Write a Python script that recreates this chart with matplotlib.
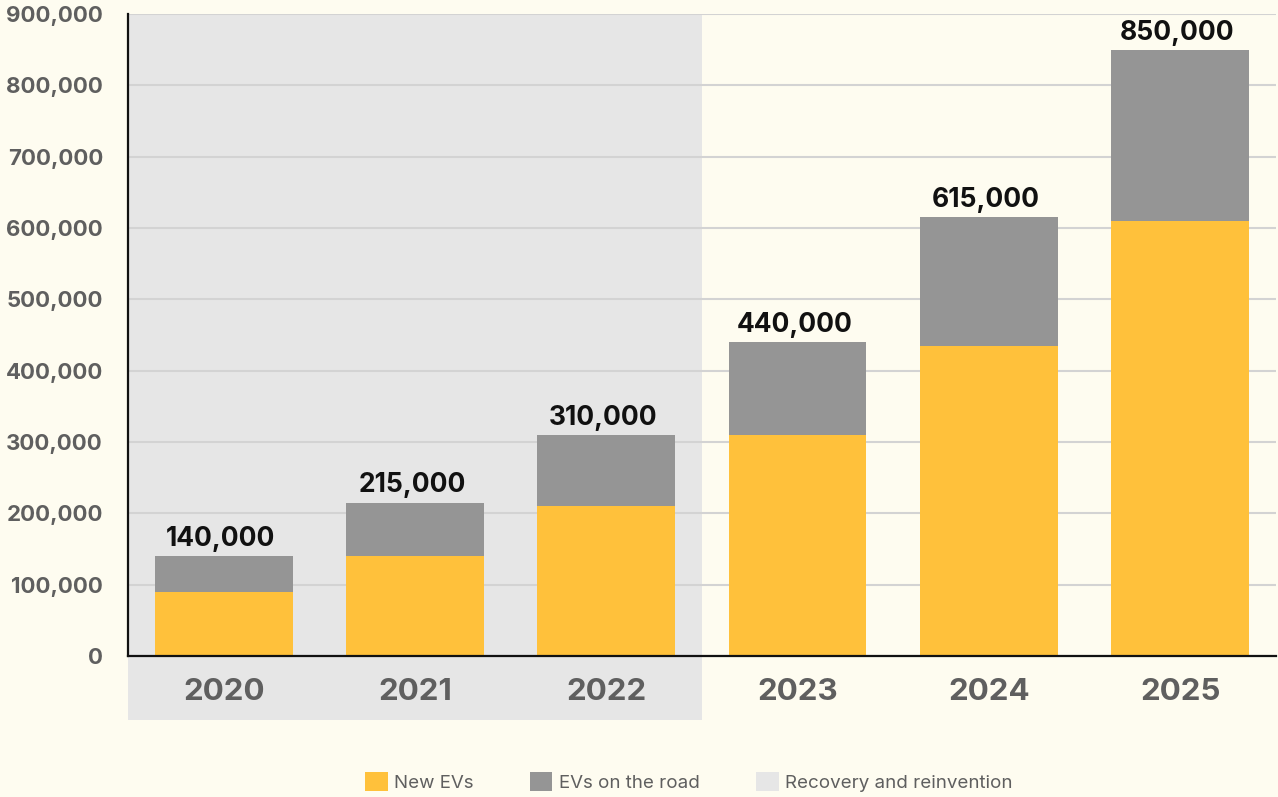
import matplotlib
matplotlib.use("Agg")
import matplotlib.pyplot as plt
from matplotlib.patches import Rectangle, Patch
from matplotlib.ticker import FuncFormatter, MultipleLocator

years = ["2020", "2021", "2022", "2023", "2024", "2025"]
new_evs = [90000, 140000, 210000, 310000, 435000, 610000]
on_road = [50000, 75000, 100000, 130000, 180000, 240000]
totals = [140000, 215000, 310000, 440000, 615000, 850000]
shade_start, shade_end = "2020", "2022"
legend_labels = ["New EVs", "EVs on the road", "Recovery and reinvention"]

plt.rcParams['font.family'] = ['Inter', 'DejaVu Sans']

BG = "#FEFCF0"
YELLOW = "#FFC13B"
GRAY = "#959595"
SHADE = "#E6E6E6"
TXT = "#5F5F5F"

fig = plt.figure(figsize=(12.78, 7.97), dpi=100, facecolor=BG)
ax = fig.add_axes([0.1002, 0.1769, 0.898, 0.8055])
ax.set_facecolor(BG)

x = list(range(len(years)))
i0, i1 = years.index(shade_start), years.index(shade_end)
ax.add_patch(Rectangle((i0 - 0.5, -0.1), (i1 - i0) + 1, 1.1,
                       transform=ax.get_xaxis_transform(), facecolor=SHADE,
                       edgecolor='none', clip_on=False, zorder=0))

w = 0.72
ax.bar(x, new_evs, width=w, color=YELLOW, zorder=3)
ax.bar(x, on_road, width=w, bottom=new_evs, color=GRAY, zorder=3)
for xi, t in zip(x, totals):
    ax.annotate(f"{t:,}", (xi, t), xytext=(-2, 3), textcoords="offset points",
                ha="center", va="bottom", fontsize=19, fontweight="bold",
                color="#111111", zorder=4)

ax.set_xlim(-0.5, len(years) - 0.5)
ax.set_ylim(0, 900000)
ax.yaxis.set_major_locator(MultipleLocator(100000))
ax.yaxis.set_major_formatter(FuncFormatter(lambda v, p: f"{int(v):,}"))
ax.set_xticks(x)
ax.set_xticklabels(years)
ax.grid(axis="y", color="#D3D3D3", linewidth=1.5, zorder=1)
ax.set_axisbelow(True)
for s in ["top", "right"]:
    ax.spines[s].set_visible(False)
for s in ["left", "bottom"]:
    ax.spines[s].set_color("#111111")
    ax.spines[s].set_linewidth(1.6)
    ax.spines[s].set_zorder(5)
ax.tick_params(axis="y", length=0, pad=18, labelsize=16, labelcolor=TXT)
ax.tick_params(axis="x", length=0, pad=16, labelsize=22.5, labelcolor=TXT)
for lab in ax.get_yticklabels():
    lab.set_fontweight("bold")
for lab in ax.get_xticklabels():
    lab.set_fontweight("bold")

handles = [Patch(facecolor=YELLOW), Patch(facecolor=GRAY), Patch(facecolor=SHADE)]
leg = fig.legend(handles, legend_labels, loc="center", bbox_to_anchor=(0.539, 0.019),
                 ncol=3, frameon=False, fontsize=13.5, handlelength=1.2,
                 handleheight=1.2, handletextpad=0.35, columnspacing=3.0,
                 labelcolor=TXT)

fig.savefig("out.png", dpi=100, facecolor=BG)
